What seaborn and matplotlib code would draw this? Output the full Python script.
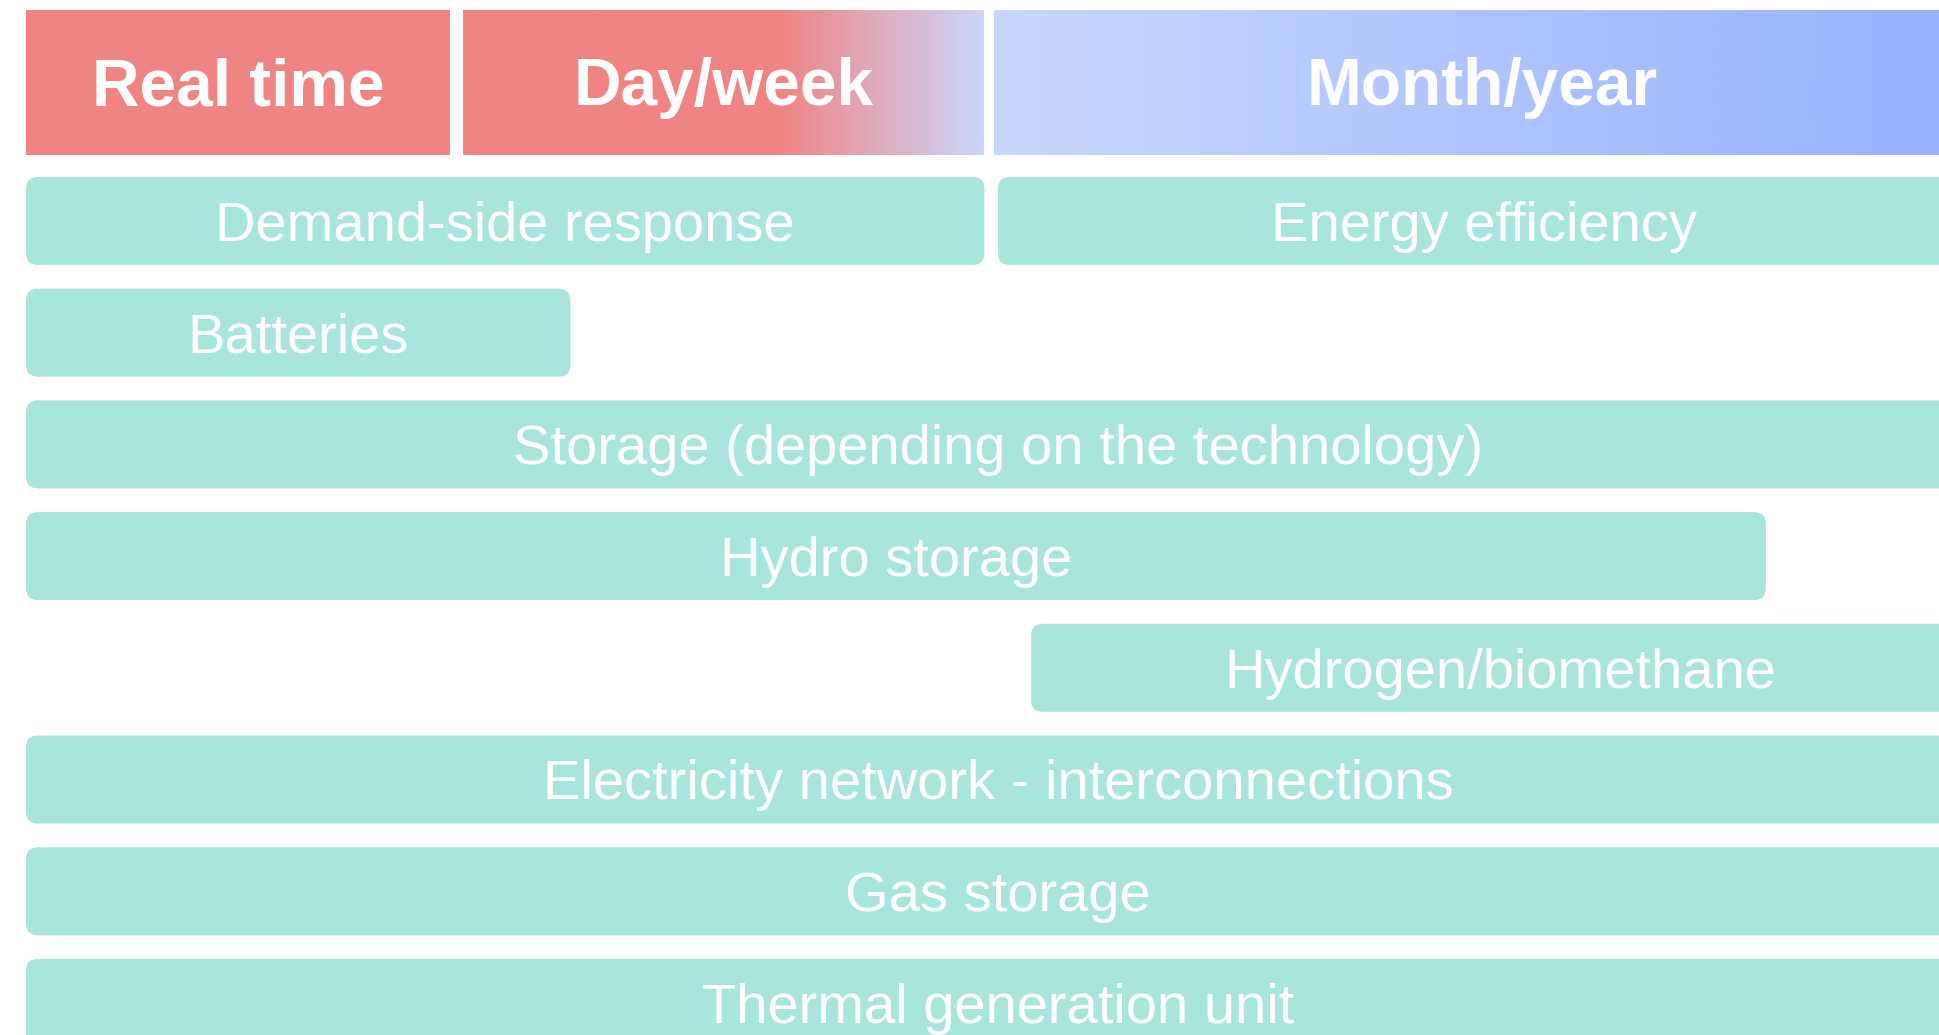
import numpy as np
import pandas as pd
import matplotlib
matplotlib.use("Agg")
import matplotlib.pyplot as plt
from matplotlib.patches import FancyBboxPatch
from matplotlib.colors import LinearSegmentedColormap
import seaborn as sns

# ---------------- data ----------------
# time-horizon scale: 0 = left end of the timeline, 100 = right end
header_labels = ["Real time", "Day/week", "Month/year"]
header_start = [0.0, 22.5, 49.8]
header_end = [21.8, 49.3, 100.0]

lever_labels = [
    "Demand-side response",
    "Energy efficiency",
    "Batteries",
    "Storage (depending on the technology)",
    "Hydro storage",
    "Hydrogen/biomethane",
    "Electricity network - interconnections",
    "Gas storage",
    "Thermal generation unit",
]
lever_row = [0, 0, 1, 2, 3, 4, 5, 6, 7]
lever_start = [0.0, 50.0, 0.0, 0.0, 0.0, 51.7, 0.0, 0.0, 0.0]
lever_end = [49.3, 100.0, 28.0, 100.0, 89.5, 100.0, 100.0, 100.0, 100.0]

# ---------------- style ----------------
TEAL = "#A8E6DD"
RED = "#F08482"
BLUE_LIGHT = "#C8D7FE"
BLUE_DARK = "#95B1FF"
BAR_H = 0.788
HEADER_TOP, HEADER_BOTTOM = -1.889, -0.591
XLIM = (-1.3374, 98.457)
YLIM = (7.2874, -1.9785)
PX_PER_X = 19.44
PX_PER_Y = 111.7
RADIUS_PX = 12
TEXT_DY = 6 / PX_PER_Y

sns.set_theme(style="white")
plt.rcParams["font.family"] = ["Liberation Sans", "DejaVu Sans"]

fig = plt.figure(figsize=(19.4, 10.35), dpi=100)
ax = fig.add_axes([0, 0, 1, 1])

df = pd.DataFrame({
    "label": lever_labels,
    "row": lever_row,
    "start": lever_start,
    "width": np.array(lever_end) - np.array(lever_start),
})

sns.barplot(data=df, x="width", y="row", hue="label", hue_order=lever_labels,
            orient="h", native_scale=True, dodge=False, width=BAR_H,
            palette=[TEAL] * len(lever_labels), errorbar=None, legend=False,
            ax=ax)

rounding = RADIUS_PX / PX_PER_X
aspect = (1 / PX_PER_Y) / (1 / PX_PER_X)

patches = list(ax.patches)
for p, lab, s in zip(patches, lever_labels, lever_start):
    y0, h, w = p.get_y(), p.get_height(), p.get_width()
    p.remove()
    fb = FancyBboxPatch((s, y0), w, h,
                        boxstyle=f"round,pad=0,rounding_size={rounding}",
                        mutation_aspect=aspect, fc=TEAL, ec="none", zorder=2)
    ax.add_patch(fb)
    ax.text(s + w / 2, y0 + h / 2 + TEXT_DY, lab, ha="center", va="center",
            color="white", fontsize=40.4, zorder=3)

# ---------------- header with gradients ----------------
header_cmaps = [
    LinearSegmentedColormap.from_list("rt", [(0, RED), (1, RED)]),
    LinearSegmentedColormap.from_list("dw", [(0, RED), (0.606, RED), (1, "#CBD6FB")]),
    LinearSegmentedColormap.from_list("my", [(0, BLUE_LIGHT), (1, BLUE_DARK)]),
]
grad = np.linspace(0, 1, 512)[None, :]
for lab, s, e, cm in zip(header_labels, header_start, header_end, header_cmaps):
    ax.imshow(grad, cmap=cm, extent=[s, e, HEADER_BOTTOM, HEADER_TOP],
              aspect="auto", interpolation="bilinear", zorder=1)
    ax.text((s + e) / 2, (HEADER_TOP + HEADER_BOTTOM) / 2 + TEXT_DY, lab,
            ha="center", va="center", color="white", fontsize=47.4,
            fontweight="bold", zorder=3)

ax.set_xlim(*XLIM)
ax.set_ylim(*YLIM)
ax.axis("off")

fig.savefig("out.png", dpi=100, facecolor="white")
